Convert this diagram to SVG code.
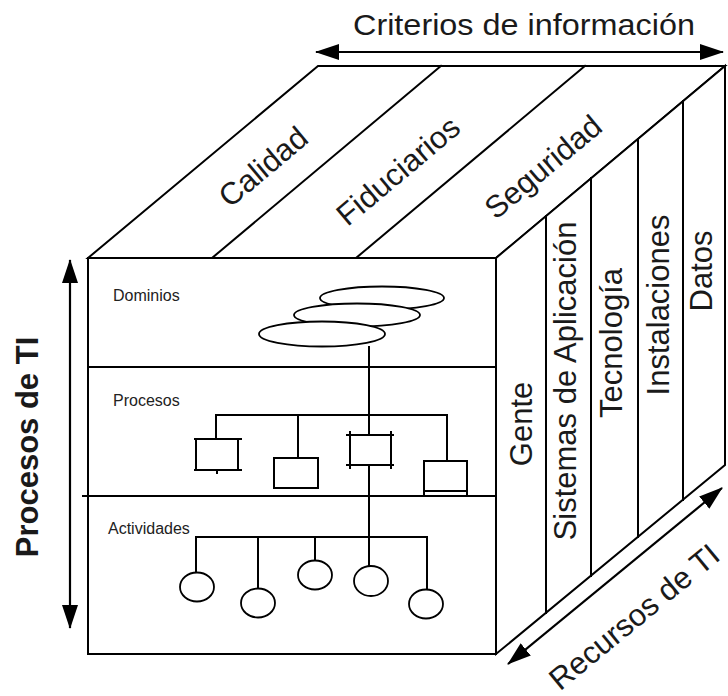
<svg xmlns="http://www.w3.org/2000/svg" width="728" height="696" viewBox="0 0 728 696">
<defs>
<marker id="ah" viewBox="0 0 24 16" refX="23" refY="8" markerWidth="24" markerHeight="16" markerUnits="userSpaceOnUse" orient="auto-start-reverse">
<path d="M0,0 L24,8 L0,16 z" fill="#000"/>
</marker>
<style>
.ln{stroke:#000;stroke-width:2;fill:none;stroke-linecap:square}
.sh{stroke:#000;stroke-width:2;fill:#fff}
.el{stroke:#000;stroke-width:1.8;fill:#fff}
.arr{stroke:#000;stroke-width:2.2;fill:none;marker-start:url(#ah);marker-end:url(#ah)}
.big{font-family:"Liberation Sans",Arial,sans-serif;font-size:31px;fill:#1a1a1a;text-anchor:middle}
.sm{font-family:"Liberation Sans",Arial,sans-serif;font-size:16px;fill:#222}
</style>
</defs>
<rect width="728" height="696" fill="#fff"/>

<g id="top-face">
<path class="sh" d="M88,258 L318,66 L725,66 L496,258 Z"/>
<line class="ln" x1="212" y1="258" x2="441" y2="66"/>
<line class="ln" x1="356" y1="258" x2="585" y2="66"/>
<text class="big" transform="translate(270,175) rotate(-40)">Calidad</text>
<text class="big" transform="translate(405,179) rotate(-40)">Fiduciarios</text>
<text class="big" transform="translate(550,175) rotate(-40)">Seguridad</text>
</g>

<g id="right-face">
<path class="sh" d="M496,258 L725,66 L725,465 L496,654 Z"/>
<line class="ln" x1="546" y1="216" x2="546" y2="613"/>
<line class="ln" x1="591" y1="178" x2="591" y2="576"/>
<line class="ln" x1="638" y1="139" x2="638" y2="537"/>
<line class="ln" x1="683" y1="101" x2="683" y2="500"/>
<text class="big" transform="translate(532,424) rotate(-90)">Gente</text>
<text class="big" transform="translate(576,381) rotate(-90)">Sistemas de Aplicación</text>
<text class="big" transform="translate(622,343) rotate(-90)">Tecnología</text>
<text class="big" transform="translate(669,305) rotate(-90)">Instalaciones</text>
<text class="big" transform="translate(712,271) rotate(-90)">Datos</text>
</g>

<g id="front-face">
<rect class="sh" x="88" y="258" width="408" height="396"/>
<line class="ln" x1="88" y1="367" x2="496" y2="367"/>
<line class="ln" x1="83" y1="496" x2="496" y2="496"/>
</g>

<g id="dominios">
<text class="sm" x="113" y="301">Dominios</text>
<ellipse class="el" cx="382" cy="298" rx="62" ry="11.5"/>
<ellipse class="el" cx="357" cy="315" rx="63" ry="11.5"/>
<ellipse class="el" cx="322" cy="334" rx="63" ry="12.5"/>
</g>

<g id="connectors">
<line class="ln" x1="369" y1="347" x2="369" y2="435"/>
<line class="ln" x1="369" y1="465" x2="369" y2="566"/>
<polyline class="ln" points="216,439 216,415 447,415 447,461"/>
<line class="ln" x1="298" y1="415" x2="298" y2="458"/>
<polyline class="ln" points="196,573 196,537 427,537 427,589"/>
<line class="ln" x1="258" y1="537" x2="258" y2="589"/>
<line class="ln" x1="315" y1="537" x2="315" y2="560"/>
<line class="arr" x1="316" y1="52" x2="723" y2="52"/>
<line class="arr" x1="70" y1="260" x2="70" y2="628"/>
<line class="arr" x1="508" y1="664" x2="722" y2="488"/>
</g>

<g id="procesos">
<text class="sm" x="113" y="406">Procesos</text>
<g id="proc1">
<line class="ln" x1="195" y1="439" x2="241" y2="439"/>
<line class="ln" x1="195" y1="470" x2="241" y2="470"/>
<line class="ln" x1="196" y1="439" x2="196" y2="470"/>
<line class="ln" x1="238" y1="439" x2="238" y2="470"/>
<line class="ln" x1="217" y1="470" x2="217" y2="473"/>
</g>
<rect id="proc2" class="sh" x="274" y="458" width="44" height="30"/>
<g id="proc3">
<line class="ln" x1="347" y1="435" x2="393" y2="435"/>
<line class="ln" x1="347" y1="465" x2="393" y2="465"/>
<line class="ln" x1="350" y1="432" x2="350" y2="468"/>
<line class="ln" x1="391" y1="432" x2="391" y2="468"/>
</g>
<g id="proc4">
<rect class="sh" x="424" y="461" width="43" height="35"/>
<line class="ln" x1="424" y1="491" x2="467" y2="491"/>
</g>
</g>

<g id="actividades">
<text class="sm" x="108" y="534">Actividades</text>
<ellipse class="el" cx="197" cy="587" rx="17" ry="14.5"/>
<ellipse class="el" cx="258" cy="603" rx="17" ry="14.5"/>
<ellipse class="el" cx="315" cy="575" rx="17" ry="14.5"/>
<ellipse class="el" cx="371" cy="581" rx="17" ry="15"/>
<ellipse class="el" cx="426" cy="604" rx="17" ry="14.5"/>
</g>

<g id="axis-labels">
<text class="big" x="524" y="35" style="font-size:30px" textLength="342" lengthAdjust="spacingAndGlyphs">Criterios de información</text>
<text class="big" transform="translate(38,447) rotate(-90)" style="font-weight:bold">Procesos de TI</text>
<text class="big" transform="translate(641,625) rotate(-39.4)">Recursos de TI</text>
</g>
</svg>
